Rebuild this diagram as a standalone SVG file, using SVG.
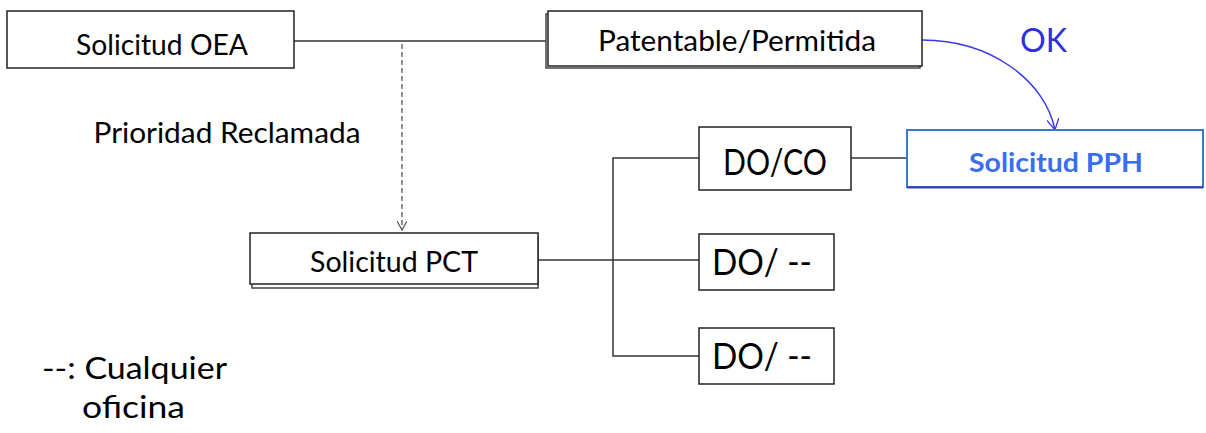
<svg xmlns="http://www.w3.org/2000/svg" width="1206" height="433" viewBox="0 0 1206 433">
<style>
.box{fill:#fff;stroke:#222;stroke-width:1.5}
.shadow{fill:none;stroke:#444;stroke-width:1.5}
.t{font-family:Lato,"Open Sans",sans-serif;fill:#000;text-anchor:middle}
.ln{fill:none;stroke:#333;stroke-width:1.5}
</style>
<defs>
<marker id="openArrow" viewBox="0 0 10 10" refX="9" refY="5" markerWidth="10" markerHeight="10" markerUnits="userSpaceOnUse" orient="auto">
<path d="M0,0 L9,5 L0,10" fill="none" stroke="#555" stroke-width="1.2"/>
</marker>
<marker id="blueArrow" viewBox="0 0 12 12" refX="11" refY="6" markerWidth="12" markerHeight="12" markerUnits="userSpaceOnUse" orient="auto">
<path d="M0,0 L11,6 L0,12" fill="none" stroke="#3a3ae6" stroke-width="1.3"/>
</marker>
</defs>
<rect width="1206" height="433" fill="#fff"/>
<g id="connectors">
<line class="ln" x1="294" y1="41" x2="546" y2="41"/>
<line x1="402" y1="44" x2="402" y2="230" stroke="#555" stroke-width="1.3" stroke-dasharray="5,3" marker-end="url(#openArrow)"/>
<path d="M922,40 C990,40 1045,80 1055,130" fill="none" stroke="#3a3ae6" stroke-width="1.5" marker-end="url(#blueArrow)"/>
<line class="ln" x1="538" y1="260" x2="699" y2="260"/>
<polyline class="ln" points="699,158 613,158 613,356 699,356"/>
<line class="ln" x1="851" y1="158" x2="907" y2="158"/>
</g>
<g id="solicitud-oea">
<rect class="box" x="7" y="11" width="287" height="57"/>
<text class="t" x="162" y="55" font-size="28" textLength="172" lengthAdjust="spacingAndGlyphs">Solicitud OEA</text>
</g>
<g id="patentable">
<rect class="shadow" x="546" y="14" width="374" height="54"/>
<rect class="box" x="548" y="11" width="374" height="55"/>
<text class="t" x="737" y="51" font-size="28" textLength="278" lengthAdjust="spacingAndGlyphs">Patentable/Permitida</text>
</g>
<g id="ok-label">
<text x="1043.5" y="52" font-family="Lato, Open Sans, sans-serif" font-size="33" fill="#2f2fe0" text-anchor="middle" textLength="47" lengthAdjust="spacingAndGlyphs">OK</text>
</g>
<g id="prioridad-label">
<text class="t" x="227" y="143" font-size="28" textLength="267" lengthAdjust="spacingAndGlyphs">Prioridad Reclamada</text>
</g>
<g id="solicitud-pct">
<rect class="shadow" x="252" y="237" width="286" height="51"/>
<rect class="box" x="250" y="233" width="288" height="51"/>
<text class="t" x="394" y="272" font-size="28" textLength="168" lengthAdjust="spacingAndGlyphs">Solicitud PCT</text>
</g>
<g id="do-co">
<rect class="box" x="699" y="127" width="152" height="63"/>
<text class="t" x="775" y="175" font-size="37" textLength="104" lengthAdjust="spacingAndGlyphs">DO/CO</text>
</g>
<g id="solicitud-pph">
<rect x="907" y="130" width="296" height="57" fill="#fff" stroke="#3a78c8" stroke-width="2"/>
<line x1="907" y1="187.5" x2="1203" y2="187.5" stroke="#3040c0" stroke-width="2"/>
<text x="1056" y="172" font-family="Lato, Open Sans, sans-serif" font-size="27" font-weight="bold" fill="#3a6ef0" text-anchor="middle" textLength="174" lengthAdjust="spacingAndGlyphs">Solicitud PPH</text>
</g>
<g id="do-1">
<rect class="box" x="699" y="234" width="135" height="56"/>
<text class="t" x="762" y="275" font-size="37" textLength="100" lengthAdjust="spacingAndGlyphs">DO/ --</text>
</g>
<g id="do-2">
<rect class="box" x="699" y="328" width="135" height="56"/>
<text class="t" x="762" y="369" font-size="37" textLength="100" lengthAdjust="spacingAndGlyphs">DO/ --</text>
</g>
<g id="legend">
<text x="42" y="379" font-family="Lato, Open Sans, sans-serif" font-size="30" fill="#000" textLength="185" lengthAdjust="spacingAndGlyphs">--: Cualquier</text>
<text x="82" y="418" font-family="Lato, Open Sans, sans-serif" font-size="30" fill="#000" textLength="103" lengthAdjust="spacingAndGlyphs">oficina</text>
</g>
</svg>
